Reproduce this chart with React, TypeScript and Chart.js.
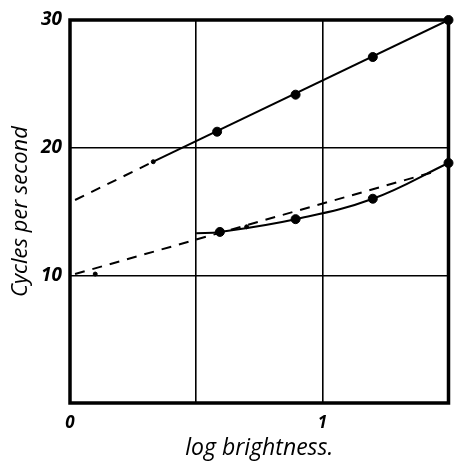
import React, { useEffect, useRef } from "react";
import { Chart, registerables } from "chart.js";

Chart.register(...registerables);

// Upper curve: observed points and fitted line
const upperPointsX = [0.583, 0.894, 1.2, 1.5];
const upperPointsY = [21.25, 24.15, 27.1, 30];
const upperFitX = [0.33, 1.5];
const upperFitY = [18.9, 30];
const upperDashX = [0.02, 0.33];
const upperDashY = [15.9, 18.9];

// Lower curve: observed points, fitted curve, dashed straight line
const lowerPointsX = [0.594, 0.894, 1.2, 1.5];
const lowerPointsY = [13.4, 14.4, 16.0, 18.8];
const lowerCurveX = [0.5, 0.594, 0.894, 1.2, 1.5];
const lowerCurveY = [13.3, 13.4, 14.4, 16.0, 18.8];
const lowerDashX = [0.02, 1.45];
const lowerDashY = [10.1, 18.15];

// Small tick marks on the lines
const minorX = [0.33, 0.7, 0.1];
const minorY = [18.9, 13.8, 10.1];

const yTickLabels = [10, 20, 30];
const xTickLabels = [0, 1];

const pts = (xs: number[], ys: number[]) => xs.map((x, i) => ({ x, y: ys[i] }));

const frame = {
  id: "frame",
  afterDraw(chart: any) {
    const { ctx, chartArea: a } = chart;
    ctx.save();
    ctx.strokeStyle = "#000";
    ctx.lineWidth = 3.5;
    ctx.strokeRect(a.left, a.top, a.right - a.left, a.bottom - a.top);
    ctx.restore();
  },
};

export default function App() {
  const ref = useRef<HTMLCanvasElement>(null);
  useEffect(() => {
    if (!ref.current) return;
    const font = "'Open Sans', 'DejaVu Sans', sans-serif";
    const chart = new Chart(ref.current, {
      type: "line",
      data: {
        datasets: [
          {
            data: pts(upperFitX, upperFitY),
            borderColor: "#000",
            borderWidth: 2,
            pointRadius: 0,
            tension: 0,
          },
          {
            data: pts(upperDashX, upperDashY),
            borderColor: "#000",
            borderWidth: 2,
            borderDash: [10, 8],
            pointRadius: 0,
          },
          {
            data: pts(lowerCurveX, lowerCurveY),
            borderColor: "#000",
            borderWidth: 2,
            pointRadius: 0,
            tension: 0.4,
          },
          {
            data: pts(lowerDashX, lowerDashY),
            borderColor: "#000",
            borderWidth: 2,
            borderDash: [10, 8],
            pointRadius: 0,
          },
          {
            data: pts(upperPointsX, upperPointsY),
            showLine: false,
            pointRadius: 4.5,
            pointBackgroundColor: "#000",
            pointBorderColor: "#000",
            clip: false,
          },
          {
            data: pts(lowerPointsX, lowerPointsY),
            showLine: false,
            pointRadius: 4.5,
            pointBackgroundColor: "#000",
            pointBorderColor: "#000",
            clip: false,
          },
          {
            data: pts(minorX, minorY),
            showLine: false,
            pointRadius: 2,
            pointBackgroundColor: "#000",
            pointBorderColor: "#000",
          },
        ],
      },
      options: {
        animation: false,
        responsive: true,
        maintainAspectRatio: false,
        layout: { padding: { left: 0, top: 20, right: 4, bottom: 0 } },
        plugins: { legend: { display: false }, tooltip: { enabled: false } },
        scales: {
          x: {
            type: "linear",
            min: 0,
            max: 1.5,
            afterFit: (s: any) => {
              s.height = 59;
              s.paddingLeft = 0;
              s.paddingRight = 0;
            },
            ticks: {
              stepSize: 0.5,
              color: "#000",
              padding: 10,
              maxRotation: 0,
              font: { family: font, size: 17, style: "italic", weight: "bold" },
              callback: (v: any) => (xTickLabels.includes(Number(v)) ? String(v) : ""),
            },
            grid: { color: "#000", lineWidth: 1.6, drawTicks: false },
            border: { display: false },
            title: {
              display: true,
              text: "log brightness.",
              color: "#000",
              font: { family: font, size: 23, style: "italic" },
              padding: { top: 0, bottom: 0 },
            },
          },
          y: {
            type: "linear",
            min: 0,
            max: 30,
            afterFit: (s: any) => {
              s.width = 70;
            },
            ticks: {
              stepSize: 10,
              color: "#000",
              padding: 8,
              font: { family: font, size: 19, style: "italic", weight: "bold" },
              callback: (v: any) => (yTickLabels.includes(Number(v)) ? String(v) : ""),
            },
            grid: { color: "#000", lineWidth: 1.6, drawTicks: false },
            border: { display: false },
            title: {
              display: true,
              text: "Cycles per second",
              color: "#000",
              font: { family: font, size: 22, style: "italic" },
              padding: { top: 8, bottom: 0 },
            },
          },
        },
      },
      plugins: [frame],
    } as any);
    return () => chart.destroy();
  }, []);
  return (
    <div style={{ position: "fixed", left: 0, top: 0, width: 454, height: 462, background: "#fff" }}>
      <canvas ref={ref} />
    </div>
  );
}
